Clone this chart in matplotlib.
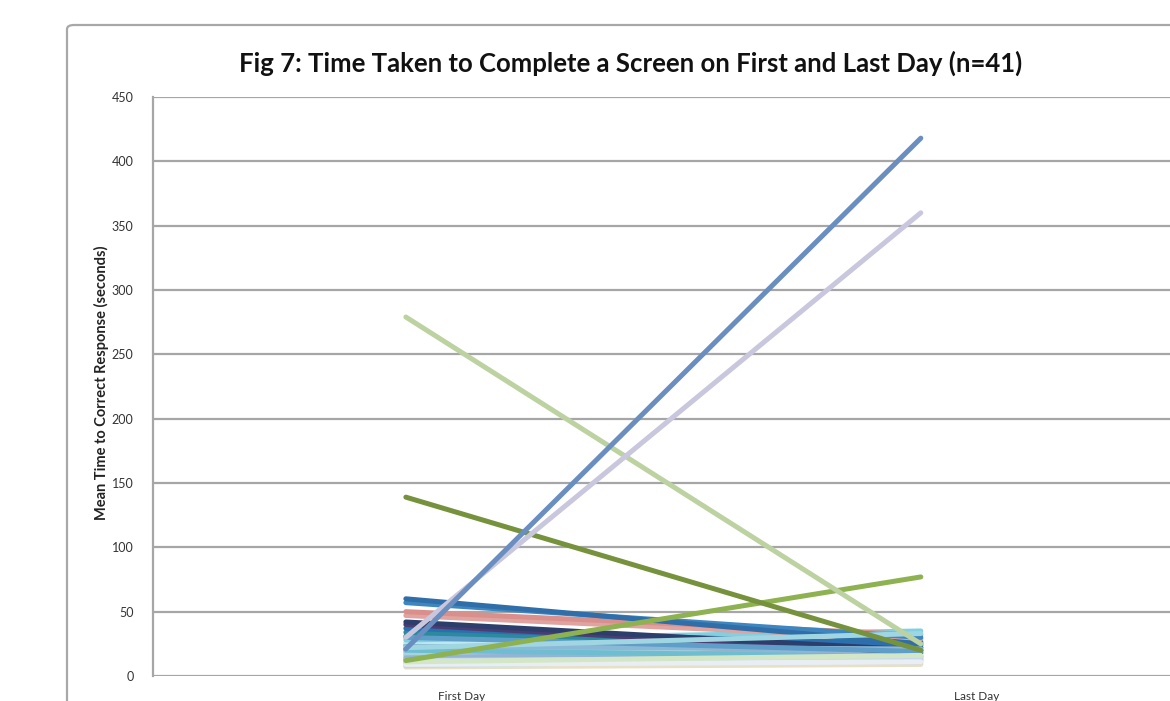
import matplotlib
matplotlib.use("Agg")
import matplotlib.pyplot as plt
import matplotlib.transforms as mtransforms
from matplotlib.patches import FancyBboxPatch

plt.rcParams['font.family'] = ['Lato', 'DejaVu Sans']

title = "Fig 7: Time Taken to Complete a Screen on First and Last Day (n=41)"
y_label = "Mean Time to Correct Response (seconds)"
days = ["First Day", "Last Day"]
y_ticks = [0, 50, 100, 150, 200, 250, 300, 350, 400, 450]

# one entry per participant: mean seconds on the first and last day
first_day = [9, 7, 11, 13, 8, 10, 12, 15, 14, 17,
             16, 10, 12, 19, 21, 18, 24, 26, 28, 31,
             34, 37, 14, 40, 42, 20, 47, 50, 57, 60,
             23, 12, 9, 30, 11, 22,
             12, 139, 279, 30, 21]
last_day = [10, 9, 12, 11, 14, 13, 16, 12, 18, 15,
            13, 17, 20, 29, 22, 24, 27, 33, 35, 26,
            22, 24, 20, 18, 20, 15, 29, 32, 30, 25,
            21, 14, 11, 19, 16, 33,
            77, 20, 25, 360, 418]
colors = ["#D6E3EE", "#E6E0C6", "#CFE0C2", "#C9C2DA", "#BEDCE3", "#DDE6F0",
          "#B9CCE0", "#EADBC8", "#C3D6E8", "#D2DBC0",
          "#A9C4DC", "#E3D4B4", "#9AA6D8", "#F2A46E", "#8C3836", "#A7D3DE",
          "#4BACC6", "#BEE8F0", "#7FD0E0", "#1F7F8F",
          "#2A8A9E", "#2A6FB0", "#95B3D7", "#4D3B72", "#2C3E6B", "#6FBDD1",
          "#E0A39F", "#D9908C", "#3E86C0", "#2F6EA8",
          "#8BB8D6", "#C7D9EC", "#E8EEF4", "#5F9EC8", "#D3E7C6", "#9FD6E2",
          "#8DB24F", "#76923C", "#BCD2A0", "#C9C7DD", "#6A8EC0"]

fig = plt.figure(figsize=(11.70, 7.01), dpi=100)

# chart frame
frame = FancyBboxPatch((67 / 1170, -0.05), 1.2, 1 - 25 / 701 + 0.05,
                       boxstyle="round,pad=0,rounding_size=0.006",
                       transform=fig.transFigure, facecolor="white",
                       edgecolor="#A8A8A8", linewidth=1.6, zorder=0)
fig.patches.append(frame)

ax = fig.add_axes([153 / 1170, 1 - 676 / 701, (1185 - 153) / 1170, (676 - 97) / 701])
ax.set_zorder(2)
ax.set_facecolor("none")

for f, l, c in zip(first_day, last_day, colors):
    ax.plot([0, 1], [f, l], color=c, linewidth=3.6, solid_capstyle="round", zorder=3)

ax.set_xlim(-0.491, 1.513)
ax.set_ylim(0, 450)
ax.set_yticks(y_ticks)
ax.set_yticklabels([str(v) for v in y_ticks], fontsize=9, color="#333333")
ax.yaxis.grid(True, color="#A6A6A6", linewidth=1.6, zorder=1)
ax.set_axisbelow(True)
ax.tick_params(axis="y", length=0, pad=14)
ax.tick_params(axis="x", length=0, pad=11)

ax.set_xticks([0, 1])
ax.set_xticklabels(days, fontsize=8.5, color="#333333")
shift = mtransforms.ScaledTranslation(56 / 100, 0, fig.dpi_scale_trans)
for lab in ax.get_xticklabels():
    lab.set_transform(lab.get_transform() + shift)

for side in ["top", "right", "bottom"]:
    ax.spines[side].set_visible(False)
ax.spines["left"].set_color("#A6A6A6")
ax.spines["left"].set_linewidth(1.6)

fig.text(101 / 1170, 1 - 383 / 701, y_label, rotation=90, ha="center", va="center",
         fontsize=10.5, fontweight="bold", color="#222222", zorder=3)
fig.text(631 / 1170, 1 - 63 / 701, title, ha="center", va="center",
         fontsize=18.5, fontweight="bold", color="#111111", zorder=3)

fig.savefig("out.png", dpi=100)
